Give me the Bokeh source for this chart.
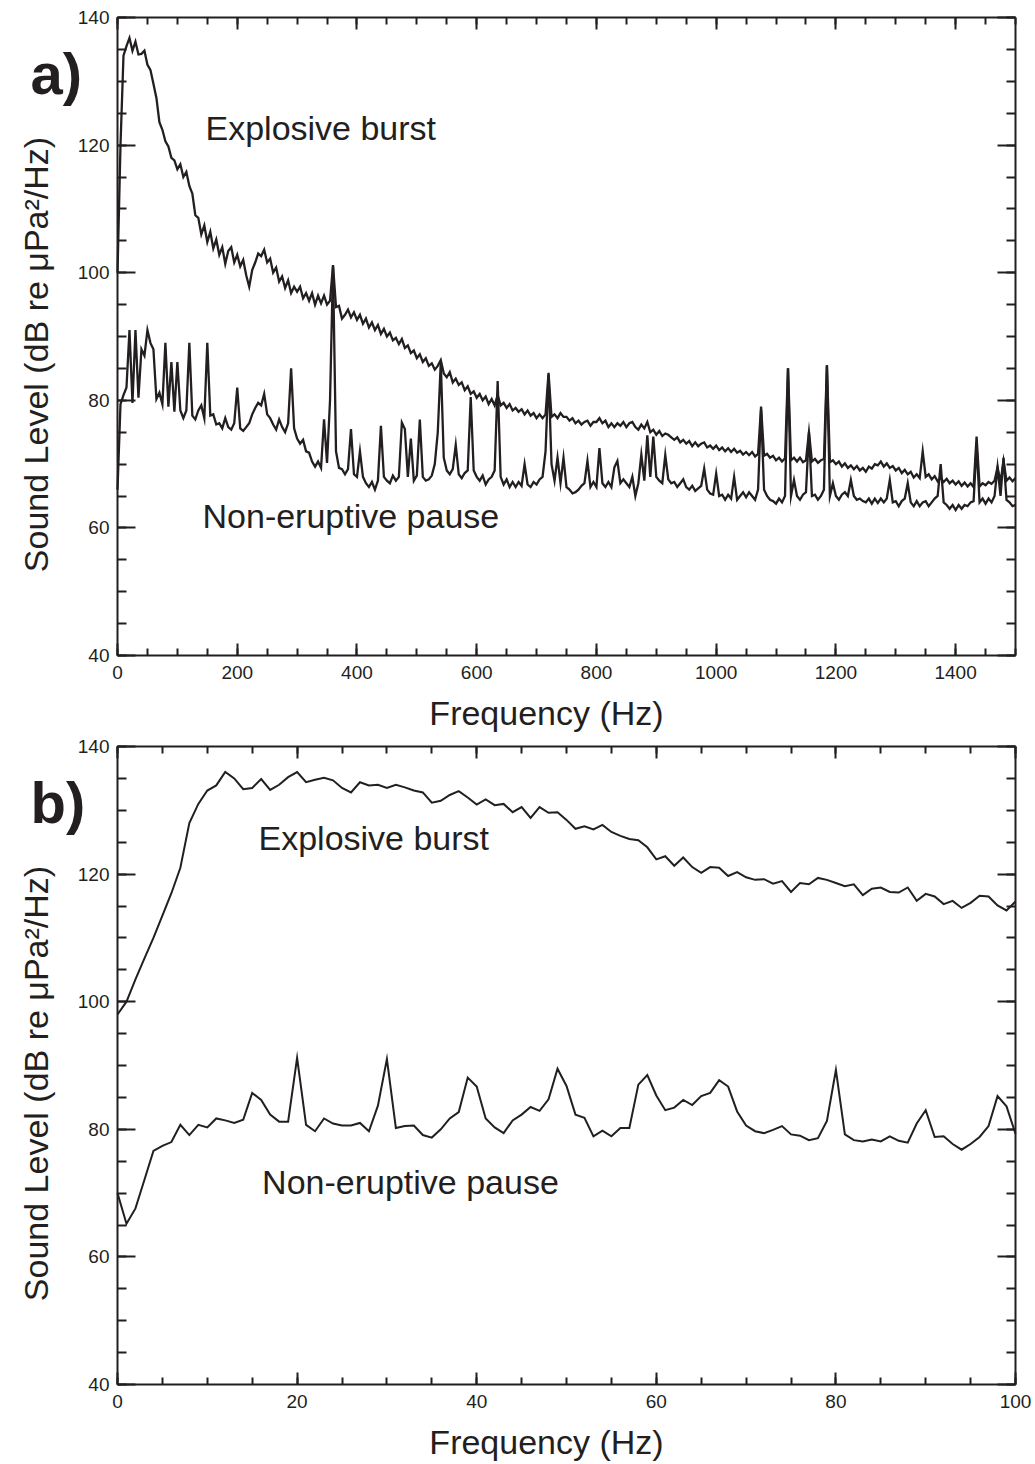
import math
from bokeh.plotting import figure
from bokeh.layouts import column
from bokeh.models import (LinearAxis, SingleIntervalTicker, Label, Range1d,
                          CustomJSTickFormatter)
from bokeh.embed import file_html
from bokeh.resources import INLINE

# ---------------- Panel a: 0-1500 Hz, 5 Hz steps ----------------
freq_a_step = 5
burst_a = [
    100, 120, 134, 135.5, 136.8, 134.8, 136.2, 134.2, 134.3, 134.8, 132.6, 131.8, 129.6, 127.4, 123.6, 122.4, 120.6, 119.8, 118, 117.6,
    116.2, 117, 115, 115.8, 113.6, 112.4, 109, 108.6, 106, 107.4, 104.8, 106.4, 103.8, 105.2, 102.8, 104, 101.4, 103.4, 104, 101.6,
    102.8, 101, 102, 99.6, 97.8, 100.4, 101.6, 103, 102.6, 103.6, 101.6, 102.2, 100, 100.8, 98.6, 99.4, 97.6, 98.8, 96.8, 97.8,
    97, 97.8, 96, 96.8, 95.6, 96.8, 95, 96.4, 95.2, 96.4, 95, 95.6, 101.2, 94.6, 94.8, 92.8, 93.4, 94.2, 93, 93.8,
    92.6, 93.4, 92, 92.8, 91.4, 92.2, 91, 91.8, 90.4, 91.2, 90, 90.6, 89.4, 89.8, 88.8, 89.6, 88.2, 88.6, 87.4, 87.8,
    86.6, 87.2, 86, 86.6, 85.4, 85.8, 84.8, 85.4, 86.3, 84.2, 83.6, 84.4, 82.8, 83.4, 82.4, 82.8, 81.6, 82.2, 81, 81.4,
    80.4, 81, 80, 80.6, 79.4, 80.2, 79.2, 80.8, 79.2, 79.6, 78.8, 79.4, 78.4, 78.8, 78.2, 78.6, 77.8, 78.4, 77.6, 78,
    77.2, 77.8, 77.2, 77.8, 84.3, 77.4, 77.8, 77.2, 78, 77.4, 77.4, 76.8, 77.2, 76.4, 76.8, 76.2, 76.6, 76.8, 76, 76.6,
    76.6, 77.2, 76.4, 76.8, 75.8, 76.4, 75.8, 76.4, 76, 76.6, 75.8, 76.4, 76.6, 75.8, 75.4, 76.2, 75.6, 76.6, 75, 75.4,
    74.6, 75.2, 74.4, 74.8, 74.6, 74.2, 73.8, 74.2, 73.4, 73.8, 73.2, 73.6, 72.8, 73.4, 72.8, 73.2, 73.4, 72.6, 72.9, 72.4,
    72.9, 72.2, 72.6, 72, 72.5, 71.9, 72.4, 71.8, 72.1, 71.5, 71.9, 71.4, 71.9, 71.2, 71.6, 79, 71.3, 71.6, 71, 71.3,
    70.6, 71, 70.4, 70.9, 85, 70.6, 71, 70.4, 71, 70.3, 70.6, 75, 70.4, 70.8, 70.2, 70.6, 70.8, 85.5, 70.3, 70.6,
    70, 70.4, 69.6, 70.1, 69.4, 69.8, 69.2, 69.7, 69, 69.4, 68.8, 69.6, 69.3, 70, 69.8, 70.4, 69.6, 70.1, 69.4, 69.7,
    69, 69.4, 68.6, 69.1, 68.4, 68.8, 67.9, 68.4, 67.8, 72, 68, 68.4, 67.6, 68.1, 67.3, 67.8, 67.2, 67.7, 67, 67.4,
    66.8, 67.3, 66.6, 67.1, 66.5, 67, 66.4, 74.3, 66.5, 67, 66.7, 67.2, 66.9, 67.4, 69.5, 67.2, 70.5, 67.4, 67.9, 67.3,
    67.8,
]
pause_a = [
    66, 79.4, 80.8, 82, 91, 79.6, 91, 80.4, 88, 87, 91, 89, 88, 80.2, 81.2, 79.4, 89, 79, 86, 78.2,
    86, 78.4, 77.2, 78.4, 89, 77.6, 77, 78.4, 79.2, 77.2, 89, 77.6, 77.8, 76.2, 76.4, 75.6, 77.2, 75.8, 75.4, 76.4,
    82, 75.6, 75.2, 75.8, 76.4, 77.8, 78.8, 79.6, 79.2, 81, 77.8, 77.2, 76.2, 75.4, 77, 75.8, 75, 76.4, 85, 75.6,
    74, 73.2, 73.8, 72, 71.8, 70.4, 69.6, 70.4, 69.4, 77, 70.2, 80, 101, 72, 69.4, 69.2, 68.4, 69.2, 75.5, 68.4,
    68, 72, 68, 67, 66.4, 67.2, 66, 67.4, 76, 68, 67.4, 67, 68.2, 67.4, 68, 76.5, 75.5, 68, 74, 67.4,
    68.2, 77, 68, 67.4, 67.6, 68.2, 70, 75, 86, 71, 69, 68.4, 69.2, 73, 68.4, 67.8, 68.6, 69, 80.5, 69,
    68, 67.4, 68.2, 66.8, 67.6, 68, 69, 83, 68, 66.8, 67.6, 66.4, 67.2, 66.4, 67.2, 66.6, 70, 66.8, 66.4, 67.2,
    66.8, 67.6, 68, 72, 84, 70, 67.4, 71, 67, 71, 66.4, 66, 65.4, 65.6, 66, 66.6, 67, 70.5, 66.4, 67.2,
    66.4, 72.5, 67, 66.4, 67.2, 66.4, 69.5, 70.5, 67, 67.6, 67, 66.4, 68, 65, 67, 71.5, 67.4, 74.5, 68, 74.3,
    68, 67.4, 67, 71.4, 67.6, 67, 67.2, 66.4, 67, 67.6, 66.4, 66, 66.6, 65.8, 66.2, 66.6, 69.3, 66, 65.4, 65.2,
    68.5, 65, 65.2, 64.4, 65.2, 64.6, 68, 64.4, 65, 65.6, 64.8, 65.6, 65, 64.4, 66, 78.5, 66, 65, 64.4, 64.2,
    63.8, 64.6, 64, 65, 85, 65, 67.5, 65, 64.4, 65.2, 65.6, 75, 65, 65.2, 64.4, 65, 66, 85.5, 65, 67,
    65, 64.4, 65.2, 65.6, 65, 67.5, 65, 64.4, 64.6, 64.2, 64, 64.6, 63.8, 64.6, 63.9, 64.6, 64, 64.6, 67.5, 64,
    64.2, 63.4, 64.2, 64.6, 67, 64, 63.4, 64.2, 63.4, 64, 64.2, 63.4, 64, 64.6, 65, 70, 64, 63.6, 63, 63.6,
    62.8, 63.6, 63, 63.6, 63.4, 64, 64.2, 73, 64, 64.6, 63.8, 64.6, 64, 65, 69.5, 65, 71, 64.4, 64, 63.4,
    63.6,
]
freq_a = [i * freq_a_step for i in range(len(burst_a))]

# ---------------- Panel b: 0-100 Hz, 1 Hz steps ----------------
burst_b = [
    98, 100, 103.5, 106.8, 110, 113.5, 117, 121, 128, 131,
    133.1, 133.9, 136.0, 135.0, 133.3, 133.5, 134.9, 133.2, 134.0, 135.2,
    136.0, 134.4, 134.8, 135.1, 134.7, 133.5, 132.8, 134.4, 133.9, 134.0,
    133.5, 134.0, 133.6, 133.1, 132.8, 131.2, 131.5, 132.4, 133.0, 132.0,
    130.9, 131.7, 130.8, 131.0, 129.7, 130.5, 128.8, 130.5, 129.6, 129.7,
    128.5, 127.1, 127.5, 127.0, 127.7, 126.6, 126.0, 125.5, 125.3, 124.2,
    122.3, 122.8, 121.3, 122.6, 121.1, 120.2, 121.1, 121.0, 119.7, 120.3,
    119.5, 119.1, 119.2, 118.5, 118.9, 117.2, 118.6, 118.4, 119.4, 119.1,
    118.6, 118.1, 118.4, 116.7, 117.7, 117.9, 117.2, 117.1, 117.9, 115.8,
    116.9, 116.5, 115.3, 115.8, 114.7, 115.5, 116.6, 116.5, 115.1, 114.3,
    115.7,
]
pause_b = [
    70, 65.2, 67.6, 72.1, 76.6, 77.4, 78.0, 80.7, 79.1, 80.7,
    80.3, 81.7, 81.4, 81.0, 81.5, 85.7, 84.6, 82.3, 81.2, 81.2,
    91.2, 80.7, 79.7, 81.7, 80.9, 80.6, 80.6, 81.0, 79.7, 83.7,
    91.0, 80.2, 80.5, 80.6, 79.1, 78.7, 80.0, 81.7, 82.7, 88.1,
    86.7, 81.7, 80.3, 79.4, 81.4, 82.3, 83.5, 82.9, 84.7, 89.5,
    86.8, 82.3, 81.8, 78.9, 79.8, 78.9, 80.2, 80.2, 87.0, 88.5,
    85.3, 83.0, 83.4, 84.6, 83.8, 85.2, 85.7, 87.7, 86.7, 82.8,
    80.6, 79.7, 79.4, 79.9, 80.5, 79.2, 79.0, 78.3, 78.6, 81.3,
    89.3, 79.2, 78.3, 78.1, 78.4, 78.1, 78.9, 78.2, 77.9, 80.9,
    83.0, 78.8, 78.9, 77.7, 76.8, 77.7, 78.8, 80.5, 85.2, 83.6,
    79.3,
]
freq_b = list(range(len(burst_b)))

FONT = "Liberation Sans"
INK = "#231f20"
y_label = "Sound Level (dB re \u03bcPa\u00b2/Hz)"
x_label = "Frequency (Hz)"

PAGE_W = 1035
LEFT_PAD = 117      # pixels left of the y axis
BOX_W = 898         # width of the plotting box
BOX_H = 638         # height of the plotting box
BOTTOM_PAD = 80
Y_MIN, Y_MAX = 40, 140


def style_axis(ax, tick_in, minor_in, standoff):
    ax.axis_line_color = INK
    ax.axis_line_width = 2
    ax.major_tick_in = tick_in
    ax.major_tick_out = 0
    ax.minor_tick_in = minor_in
    ax.minor_tick_out = 0
    ax.major_tick_line_width = 2
    ax.minor_tick_line_width = 2
    ax.major_tick_line_color = INK
    ax.minor_tick_line_color = INK
    ax.major_label_text_font = FONT
    ax.major_label_text_font_size = "19px"
    ax.major_label_text_color = INK
    ax.major_label_standoff = standoff


def make_panel(xmax, xint, top_pad, freqs, burst, pause, lw, tag,
               burst_xy, pause_xy):
    sx = BOX_W / xmax                 # pixels per Hz
    sy = BOX_H / (Y_MAX - Y_MIN)      # pixels per dB
    height = top_pad + BOX_H + BOTTOM_PAD
    x_range = Range1d(-LEFT_PAD / sx, (PAGE_W - LEFT_PAD) / sx)
    y_range = Range1d(Y_MIN - BOTTOM_PAD / sy, Y_MAX + top_pad / sy)
    p = figure(frame_width=PAGE_W, frame_height=height,
               x_range=x_range, y_range=y_range,
               output_backend="svg", toolbar_location=None,
               x_axis_location=None, y_axis_location=None,
               min_border=0)
    p.grid.visible = False
    p.outline_line_color = None
    p.background_fill_color = "white"
    p.border_fill_color = "white"

    blank = CustomJSTickFormatter(code="return ''")

    bottom = LinearAxis(ticker=SingleIntervalTicker(interval=xint, num_minor_ticks=4),
                        fixed_location=Y_MIN, bounds=(0, xmax))
    style_axis(bottom, 12, 7, 10)
    top = LinearAxis(ticker=SingleIntervalTicker(interval=xint, num_minor_ticks=4),
                     fixed_location=Y_MAX, bounds=(0, xmax), formatter=blank)
    style_axis(top, 12, 7, 0)
    left = LinearAxis(ticker=SingleIntervalTicker(interval=20, num_minor_ticks=4),
                      fixed_location=0, bounds=(Y_MIN, Y_MAX))
    style_axis(left, 18, 9, 8)
    right = LinearAxis(ticker=SingleIntervalTicker(interval=20, num_minor_ticks=4),
                       fixed_location=xmax, bounds=(Y_MIN, Y_MAX), formatter=blank)
    style_axis(right, 18, 9, 0)
    p.add_layout(bottom, "below")
    p.add_layout(top, "above")
    p.add_layout(left, "left")
    p.add_layout(right, "right")

    p.line(freqs, pause, line_color=INK, line_width=lw, line_join="miter")
    p.line(freqs, burst, line_color=INK, line_width=lw, line_join="miter")

    # axis titles (placed in page pixels, converted through the scales)
    p.add_layout(Label(x=(546 - LEFT_PAD) / sx, y=Y_MAX - (695 + 17 - 17) / sy,
                       text=x_label, text_font=FONT, text_font_size="34px",
                       text_color=INK, text_align="center",
                       text_baseline="middle"))
    p.add_layout(Label(x=(35 - LEFT_PAD) / sx, y=Y_MAX - 337 / sy,
                       text=y_label, text_font=FONT, text_font_size="34px",
                       text_color=INK, text_align="center",
                       text_baseline="middle", angle=math.pi / 2))

    # panel tag
    p.add_layout(Label(x=(30 - LEFT_PAD) / sx, y=Y_MAX - 56 / sy, text=tag,
                       text_font=FONT, text_font_size="58px",
                       text_font_style="bold", text_color=INK,
                       text_baseline="middle", text_align="left"))
    p.add_layout(Label(x=burst_xy[0], y=burst_xy[1], text="Explosive burst",
                       text_font=FONT, text_font_size="34px",
                       text_color=INK, text_baseline="middle",
                       text_align="left"))
    p.add_layout(Label(x=pause_xy[0], y=pause_xy[1], text="Non-eruptive pause",
                       text_font=FONT, text_font_size="34px",
                       text_color=INK, text_baseline="middle",
                       text_align="left"))
    return p


pa = make_panel(1500, 200, 17, freq_a, burst_a, pause_a, 2.3, "a)",
                (147, 122.7), (142, 61.8))
pb = make_panel(100, 20, 11, freq_b, burst_b, pause_b, 2.0, "b)",
                (15.7, 125.7), (16.1, 71.8))

layout = column(pa, pb, spacing=0)
open("out.html", "w").write(file_html(layout, INLINE))
